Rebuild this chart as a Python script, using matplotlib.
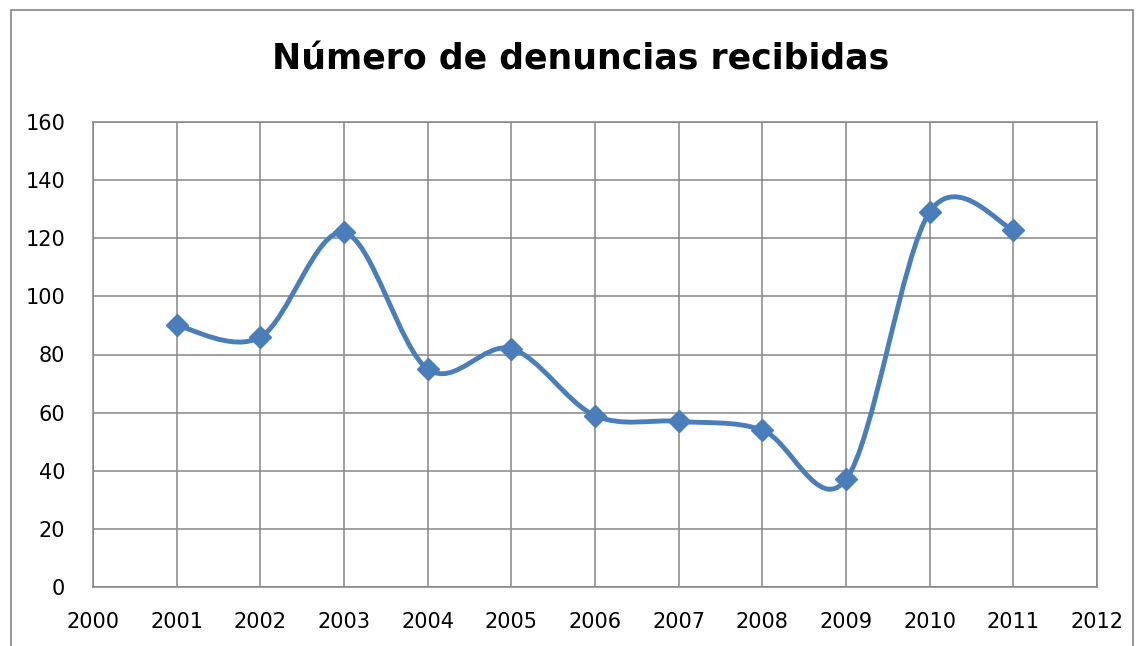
import numpy as np
import matplotlib.pyplot as plt
from matplotlib.path import Path
from matplotlib.patches import PathPatch, Rectangle

years = [2001, 2002, 2003, 2004, 2005, 2006, 2007, 2008, 2009, 2010, 2011]
denuncias = [90, 86, 122, 75, 82, 59, 57, 54, 37, 129, 123]
x_ticks = list(range(2000, 2013))
y_ticks = list(range(0, 161, 20))

LINE = "#4A7EBB"
GRID = "#868686"

plt.rcParams["font.family"] = ["DejaVu Sans"]


def smooth_path(xs, ys):
    # Excel-like smoothed line: cubic bezier segments with Catmull-Rom control points
    pts = np.column_stack([xs, ys]).astype(float)
    ext = np.vstack([pts[0], pts, pts[-1]])
    verts = [pts[0]]
    codes = [Path.MOVETO]
    for i in range(len(pts) - 1):
        p0, p1, p2, p3 = ext[i], ext[i + 1], ext[i + 2], ext[i + 3]
        verts += [p1 + (p2 - p0) / 6, p2 - (p3 - p1) / 6, p2]
        codes += [Path.CURVE4] * 3
    return Path(verts, codes)


fig = plt.figure(figsize=(11.37, 6.46), dpi=100)
ax = fig.add_axes([93 / 1137, 1 - 587 / 646, (1097 - 93) / 1137, (587 - 122) / 646])

# outer chart border
fig.patches.append(Rectangle((11 / 1137, -0.05), (1133 - 11) / 1137, 1.05 - 10 / 646,
                             transform=fig.transFigure, fill=False, edgecolor=GRID, linewidth=1.2))

ax.add_patch(PathPatch(smooth_path(years, denuncias), fill=False, edgecolor=LINE,
                       linewidth=3.5, capstyle="round", joinstyle="round", zorder=3))
ax.plot(years, denuncias, linestyle="none", marker="D", markersize=11.5, color=LINE, zorder=4)

ax.set_xlim(2000, 2012)
ax.set_ylim(0, 160)
ax.set_xticks(x_ticks)
ax.set_yticks(y_ticks)
ax.grid(True, color=GRID, linewidth=1.1)
ax.set_axisbelow(True)
for s in ax.spines.values():
    s.set_color(GRID)
    s.set_linewidth(1.1)
ax.tick_params(length=0, labelsize=15, colors="black")
ax.tick_params(axis="x", pad=18)
ax.tick_params(axis="y", pad=20)

fig.text(581 / 1137, 1 - 69 / 646, "Número de denuncias recibidas", ha="center", va="baseline",
         fontsize=25, fontweight="bold")

fig.savefig("out.png", dpi=100)
